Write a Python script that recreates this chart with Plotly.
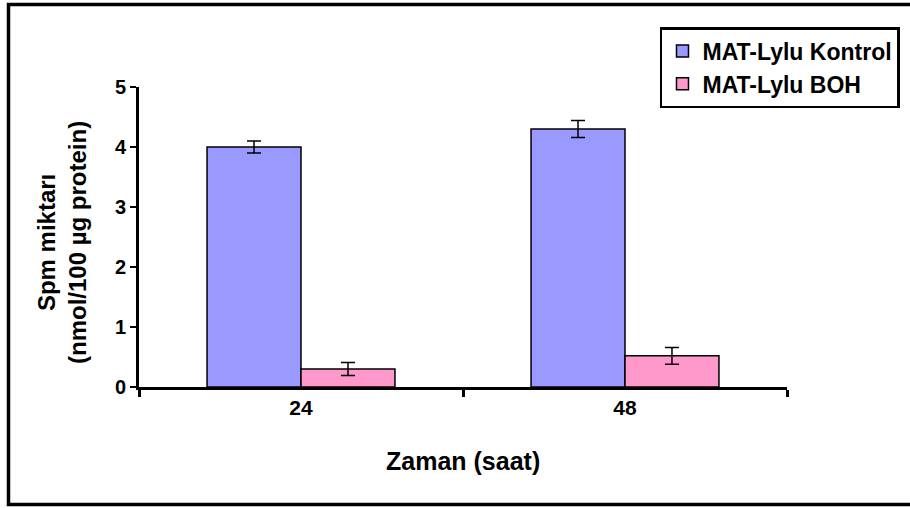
import plotly.graph_objects as go

# Spermine levels in MAT-Lylu cells, control vs BOH treatment
times = ["24", "48"]
kontrol = [4.0, 4.3]
kontrol_err = [0.10, 0.14]
boh = [0.30, 0.52]
boh_err = [0.11, 0.14]

FONT = "Liberation Sans, Arial, sans-serif"

fig = go.Figure()
fig.add_trace(go.Bar(
    name="MAT-Lylu Kontrol", x=times, y=kontrol,
    marker=dict(color="#9999FF", line=dict(color="black", width=1.5)),
    error_y=dict(type="data", array=kontrol_err, color="black", thickness=1.5, width=7),
))
fig.add_trace(go.Bar(
    name="MAT-Lylu BOH", x=times, y=boh,
    marker=dict(color="#FF99CC", line=dict(color="black", width=1.5)),
    error_y=dict(type="data", array=boh_err, color="black", thickness=1.5, width=7),
))

fig.update_layout(
    width=910, height=508,
    margin=dict(l=139, r=123, t=87, b=121, autoexpand=False),
    paper_bgcolor="white", plot_bgcolor="white",
    barmode="group", bargap=0.42, bargroupgap=0,
    font=dict(family=FONT, color="black"),
    showlegend=True,
    legend=dict(
        x=0.804, y=1.2, xanchor="left", yanchor="top",
        bordercolor="black", borderwidth=2.5, bgcolor="white",
        font=dict(family=FONT, size=23, color="black", weight="bold"),
        itemwidth=30, tracegroupgap=0,
    ),
    xaxis=dict(
        type="category", range=[-0.5, 1.5],
        showline=True, linecolor="black", linewidth=3,
        ticks="outside", tickson="boundaries", ticklen=7, tickwidth=3, tickcolor="black",
        tickfont=dict(size=21, weight="bold"),
        showgrid=False, zeroline=False,
    ),
    yaxis=dict(
        range=[0, 5], dtick=1,
        showline=True, linecolor="black", linewidth=3,
        ticks="outside", ticklen=6, tickwidth=2, tickcolor="black",
        tickfont=dict(size=20, weight="bold"),
        showgrid=False, zeroline=False,
    ),
    annotations=[
        dict(
            text="Spm miktarı<br>(nmol/100 µg protein)",
            xref="paper", yref="paper", x=-0.119, y=0.483,
            xanchor="center", yanchor="middle", textangle=-90, showarrow=False,
            font=dict(family=FONT, size=24, color="black", weight="bold"),
        ),
        dict(
            text="Zaman (saat)",
            xref="paper", yref="paper", x=0.5, y=-0.245,
            xanchor="center", yanchor="middle", showarrow=False,
            font=dict(family=FONT, size=25, color="black", weight="bold"),
        ),
    ],
    shapes=[
        dict(
            type="rect", xref="paper", yref="paper",
            x0=-0.2014, x1=1.195, y0=-0.392, y1=1.275,
            line=dict(color="black", width=3.5), layer="below",
        )
    ],
)

fig.write_html("out.html")
